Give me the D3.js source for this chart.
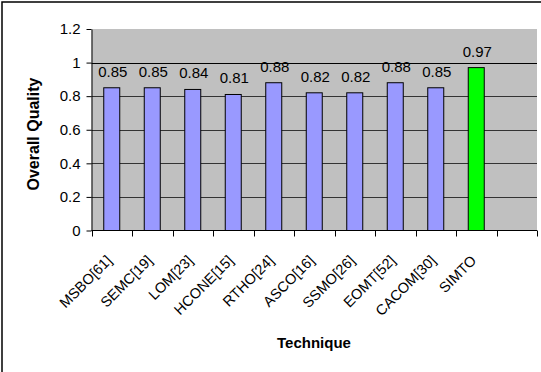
<!DOCTYPE html>
<html>
<head>
<meta charset="utf-8">
<script src="https://cdn.jsdelivr.net/npm/d3@7"></script>
<style>
  html, body { margin: 0; padding: 0; background: #fff; }
  svg { display: block; }
  text { font-family: "Liberation Sans", Arial, sans-serif; fill: #000; }
</style>
</head>
<body>
<svg id="chart" width="541" height="372"></svg>
<script>
// Overall quality score per technique
const techniques = ["MSBO[61]", "SEMC[19]", "LOM[23]", "HCONE[15]", "RTHO[24]",
                    "ASCO[16]", "SSMO[26]", "EOMT[52]", "CACOM[30]", "SIMTO"];
const quality = [0.85, 0.85, 0.84, 0.81, 0.88, 0.82, 0.82, 0.88, 0.85, 0.97];
const highlighted = ["SIMTO"];
const yTicks = [0, 0.2, 0.4, 0.6, 0.8, 1, 1.2];
// one empty category slot follows the last bar
const slots = techniques.concat([""]);

const svg = d3.select("#chart");

// outer frame (top and left edges)
svg.append("path")
  .attr("d", "M2,372 V2 H541")
  .attr("fill", "none")
  .attr("stroke", "#000")
  .attr("stroke-width", 1.5);

const plot = { left: 91.5, right: 537, top: 29, bottom: 230.5 };

const x = d3.scaleBand()
  .domain(slots.map((d, i) => i))
  .range([plot.left, plot.right])
  .paddingInner(0)
  .paddingOuter(0);

const y = d3.scaleLinear()
  .domain([0, 1.2])
  .range([plot.bottom, plot.top]);

// plot area background
svg.append("rect")
  .attr("x", plot.left)
  .attr("y", plot.top)
  .attr("width", plot.right - plot.left)
  .attr("height", plot.bottom - plot.top)
  .attr("fill", "#c0c0c0");

// horizontal gridlines
svg.append("g")
  .selectAll("line")
  .data(yTicks.filter(v => v > 0 && v < 1.2))
  .join("line")
  .attr("x1", plot.left)
  .attr("x2", plot.right)
  .attr("y1", d => Math.round(y(d)) + 0.5)
  .attr("y2", d => Math.round(y(d)) + 0.5)
  .attr("stroke", d => d === 1 ? "#000" : "#333")
  .attr("stroke-width", 1);

// bars
const barW = 16;
svg.append("g")
  .selectAll("rect")
  .data(techniques)
  .join("rect")
  .attr("x", (d, i) => x(i) + x.bandwidth() / 2 - barW / 2)
  .attr("y", (d, i) => y(quality[i]))
  .attr("width", barW)
  .attr("height", (d, i) => y(0) - y(quality[i]))
  .attr("fill", d => highlighted.includes(d) ? "#00ff00" : "#9999ff")
  .attr("stroke", "#000")
  .attr("stroke-width", 1);

// value labels
svg.append("g")
  .selectAll("text")
  .data(techniques)
  .join("text")
  .attr("x", (d, i) => x(i) + x.bandwidth() / 2 + 1)
  .attr("y", (d, i) => y(quality[i]) - 11)
  .attr("text-anchor", "middle")
  .attr("font-size", 15)
  .text((d, i) => d3.format(".2f")(quality[i]));

// y axis
const yAxis = d3.axisLeft(y)
  .tickValues(yTicks)
  .tickFormat(d => d3.format("")(+d.toFixed(1)))
  .tickSize(5)
  .tickSizeOuter(0);
const gy = svg.append("g")
  .attr("transform", `translate(${plot.left},0)`)
  .call(yAxis);
gy.select(".domain").attr("stroke", "#000");
gy.selectAll(".tick line").attr("stroke", "#000");
gy.selectAll(".tick text")
  .attr("font-size", 15)
  .attr("font-family", "Liberation Sans, Arial, sans-serif")
  .attr("fill", "#000")
  .attr("x", -11);

// x axis with ticks at category boundaries
const gx = svg.append("g");
gx.append("line")
  .attr("x1", plot.left)
  .attr("x2", plot.right)
  .attr("y1", plot.bottom)
  .attr("y2", plot.bottom)
  .attr("stroke", "#000");
gx.selectAll("line.tick")
  .data(slots.map((d, i) => i).concat([slots.length]))
  .join("line")
  .attr("class", "tick")
  .attr("x1", i => Math.round(i < slots.length ? x(i) : plot.right) + 0.5)
  .attr("x2", i => Math.round(i < slots.length ? x(i) : plot.right) + 0.5)
  .attr("y1", plot.bottom)
  .attr("y2", plot.bottom + 6)
  .attr("stroke", "#000");

// rotated category labels
gx.selectAll("text")
  .data(techniques)
  .join("text")
  .attr("text-anchor", "end")
  .attr("font-size", 14.5)
  .attr("transform", (d, i) => `translate(${x(i) + x.bandwidth() / 2 + 1},${plot.bottom + 31}) rotate(-45)`)
  .text(d => d);

// axis titles
svg.append("text")
  .attr("transform", `translate(39,134) rotate(-90)`)
  .attr("text-anchor", "middle")
  .attr("font-weight", "bold")
  .attr("font-size", 16)
  .text("Overall Quality");

svg.append("text")
  .attr("x", 314)
  .attr("y", 348)
  .attr("text-anchor", "middle")
  .attr("font-weight", "bold")
  .attr("font-size", 15)
  .text("Technique");
</script>
</body>
</html>
